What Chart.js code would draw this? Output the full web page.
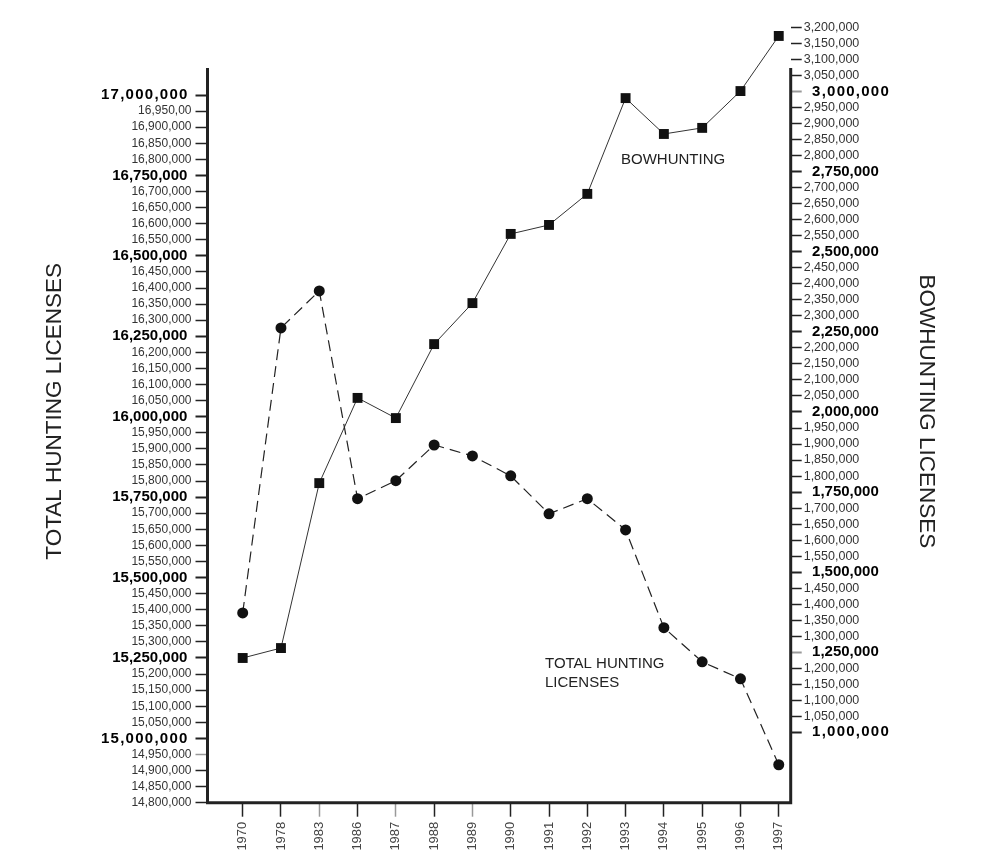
<!DOCTYPE html>
<html><head><meta charset="utf-8">
<script src="https://cdn.jsdelivr.net/npm/chart.js@4.4.1/dist/chart.umd.min.js"></script>
<style>html,body{margin:0;padding:0;background:#fff;} #wrap{width:994px;height:868px;}</style>
</head><body><div id="wrap"><canvas id="c" width="994" height="868"></canvas></div>
<script>
// ---- data ----
const years = ['1970','1978','1983','1986','1987','1988','1989','1990','1991','1992','1993','1994','1995','1996','1997'];
const totalLicenses = [15390000,16276000,16391000,15745000,15801000,15912000,15878000,15816000,15698000,15745000,15648000,15344000,15238000,15185000,14918000];
const bowLicenses = [1232000,1263000,1778000,2044000,1981000,2212000,2340000,2556000,2584000,2681000,2980000,2868000,2887000,3002000,3174000];

const leftTickValues = [14800000,14850000,14900000,14950000,15000000,15050000,15100000,15150000,15200000,15250000,15300000,15350000,15400000,15450000,15500000,15550000,15600000,15650000,15700000,15750000,15800000,15850000,15900000,15950000,16000000,16050000,16100000,16150000,16200000,16250000,16300000,16350000,16400000,16450000,16500000,16550000,16600000,16650000,16700000,16750000,16800000,16850000,16900000,16950000,17000000];
const leftTickLabels = ['14,800,000','14,850,000','14,900,000','14,950,000','15,000,000','15,050,000','15,100,000','15,150,000','15,200,000','15,250,000','15,300,000','15,350,000','15,400,000','15,450,000','15,500,000','15,550,000','15,600,000','15,650,000','15,700,000','15,750,000','15,800,000','15,850,000','15,900,000','15,950,000','16,000,000','16,050,000','16,100,000','16,150,000','16,200,000','16,250,000','16,300,000','16,350,000','16,400,000','16,450,000','16,500,000','16,550,000','16,600,000','16,650,000','16,700,000','16,750,000','16,800,000','16,850,000','16,900,000','16,950,00','17,000,000'];
const rightTickValues = [1000000,1050000,1100000,1150000,1200000,1250000,1300000,1350000,1400000,1450000,1500000,1550000,1600000,1650000,1700000,1750000,1800000,1850000,1900000,1950000,2000000,2050000,2100000,2150000,2200000,2250000,2300000,2350000,2400000,2450000,2500000,2550000,2600000,2650000,2700000,2750000,2800000,2850000,2900000,2950000,3000000,3050000,3100000,3150000,3200000];
const rightTickLabels = ['1,000,000','1,050,000','1,100,000','1,150,000','1,200,000','1,250,000','1,300,000','1,350,000','1,400,000','1,450,000','1,500,000','1,550,000','1,600,000','1,650,000','1,700,000','1,750,000','1,800,000','1,850,000','1,900,000','1,950,000','2,000,000','2,050,000','2,100,000','2,150,000','2,200,000','2,250,000','2,300,000','2,350,000','2,400,000','2,450,000','2,500,000','2,550,000','2,600,000','2,650,000','2,700,000','2,750,000','2,800,000','2,850,000','2,900,000','2,950,000','3,000,000','3,050,000','3,100,000','3,150,000','3,200,000'];
const spacedTicks = [15000000, 17000000, 1000000, 3000000];

// ---- styling ----
const FONT = "'Liberation Sans', Arial, Helvetica, sans-serif";
const isMajor = v => v % 250000 === 0;
const tv = c => (c && c.tick) ? c.tick.value : NaN;
const spaced = (s, v) => spacedTicks.includes(v) ? s.split('').join('\u200A') : s;
const grayXTicks = [2, 4, 6];
const grayYTicks = [14950000, 1250000, 3000000];

const axisLines = {
  id: 'axisLines',
  afterDraw(chart) {
    const {ctx, chartArea: a} = chart;
    ctx.save();
    ctx.strokeStyle = '#222';
    ctx.lineWidth = 3;
    ctx.beginPath();
    ctx.moveTo(a.left, 68); ctx.lineTo(a.left, a.bottom + 1.5);
    ctx.moveTo(a.left - 1.5, a.bottom); ctx.lineTo(a.right + 1.5, a.bottom);
    ctx.moveTo(a.right, 68); ctx.lineTo(a.right, a.bottom + 1.5);
    ctx.stroke();
    ctx.fillStyle = '#222';
    ctx.font = '15px ' + FONT;
    ctx.textBaseline = 'middle';
    ctx.textAlign = 'left';
    ctx.fillText('BOWHUNTING', 621, 160);
    ctx.fillText('TOTAL HUNTING', 545, 664);
    ctx.fillText('LICENSES', 545, 683);
    ctx.restore();
  }
};

new Chart(document.getElementById('c'), {
  type: 'line',
  data: {
    datasets: [
      {
        label: 'TOTAL HUNTING LICENSES',
        yAxisID: 'yL',
        data: totalLicenses.map((v, i) => ({x: i, y: v})),
        borderColor: '#222',
        borderWidth: 1.2,
        borderDash: [11, 6],
        pointStyle: 'circle',
        pointRadius: 5.5,
        pointBackgroundColor: '#111',
        pointBorderColor: '#111',
        pointBorderWidth: 0,
        tension: 0,
        fill: false
      },
      {
        label: 'BOWHUNTING',
        yAxisID: 'yR',
        data: bowLicenses.map((v, i) => ({x: i, y: v})),
        borderColor: '#333',
        borderWidth: 1,
        pointStyle: 'rect',
        pointRadius: 7,
        pointBackgroundColor: '#111',
        pointBorderColor: '#111',
        pointBorderWidth: 0,
        tension: 0,
        fill: false
      }
    ]
  },
  options: {
    responsive: false,
    devicePixelRatio: 1,
    animation: false,
    clip: false,
    layout: {padding: {top: 20, left: 0, right: 0, bottom: 0}},
    plugins: {legend: {display: false}, tooltip: {enabled: false}},
    scales: {
      x: {
        type: 'linear',
        position: 'bottom',
        min: -0.919,
        max: 14.312,
        afterBuildTicks: s => { s.ticks = years.map((_, i) => ({value: i})); },
        afterFit: s => { s.height = 65.3; },
        border: {display: false},
        grid: {
          drawOnChartArea: false, drawTicks: true, tickLength: 14, tickWidth: 1.5,
          tickColor: c => grayXTicks.includes(c ? c.index : -1) ? '#999' : '#222'
        },
        ticks: {
          autoSkip: false, minRotation: 90, maxRotation: 90, padding: 5,
          color: '#444', font: {family: FONT, size: 13},
          callback: v => years[v]
        }
      },
      yL: {
        type: 'linear',
        position: 'left',
        min: 14800000,
        max: 17233150,
        afterBuildTicks: s => { s.ticks = leftTickValues.map(v => ({value: v})); },
        afterFit: s => { s.width = 207.5; },
        border: {display: false},
        grid: {
          drawOnChartArea: false, drawTicks: true, tickLength: 12,
          tickWidth: c => isMajor(tv(c)) ? 2 : 1.5,
          tickColor: c => grayYTicks.includes(tv(c)) ? '#999' : '#222'
        },
        ticks: {
          autoSkip: false, padding: 4,
          color: c => isMajor(tv(c)) ? '#000' : '#333',
          font: c => isMajor(tv(c)) ? {family: FONT, size: 15, weight: 'bold'} : {family: FONT, size: 12},
          callback: v => spaced(leftTickLabels[leftTickValues.indexOf(v)], v) + (isMajor(v) ? ' ' : '')
        },
        title: {
          display: true, text: 'TOTAL HUNTING LICENSES', color: '#222',
          font: {family: FONT, size: 22.5}, padding: {top: 41.5, bottom: 0}
        }
      },
      yR: {
        type: 'linear',
        position: 'right',
        min: 780200,
        max: 3223850,
        afterBuildTicks: s => { s.ticks = rightTickValues.map(v => ({value: v})); },
        afterFit: s => { s.width = 203.3; },
        border: {display: false},
        grid: {
          drawOnChartArea: false, drawTicks: true, tickLength: 11,
          tickWidth: c => isMajor(tv(c)) ? 2 : 1.5,
          tickColor: c => grayYTicks.includes(tv(c)) ? '#999' : '#222'
        },
        ticks: {
          autoSkip: false, padding: 2,
          color: c => isMajor(tv(c)) ? '#000' : '#333',
          font: c => isMajor(tv(c)) ? {family: FONT, size: 15, weight: 'bold'} : {family: FONT, size: 12.5},
          callback: v => (isMajor(v) ? '  ' : '') + spaced(rightTickLabels[rightTickValues.indexOf(v)], v)
        },
        title: {
          display: true, text: 'BOWHUNTING LICENSES', color: '#222',
          font: {family: FONT, size: 22.5}, padding: {top: 54.5, bottom: 0}
        }
      }
    }
  },
  plugins: [axisLines]
});
</script></body></html>
